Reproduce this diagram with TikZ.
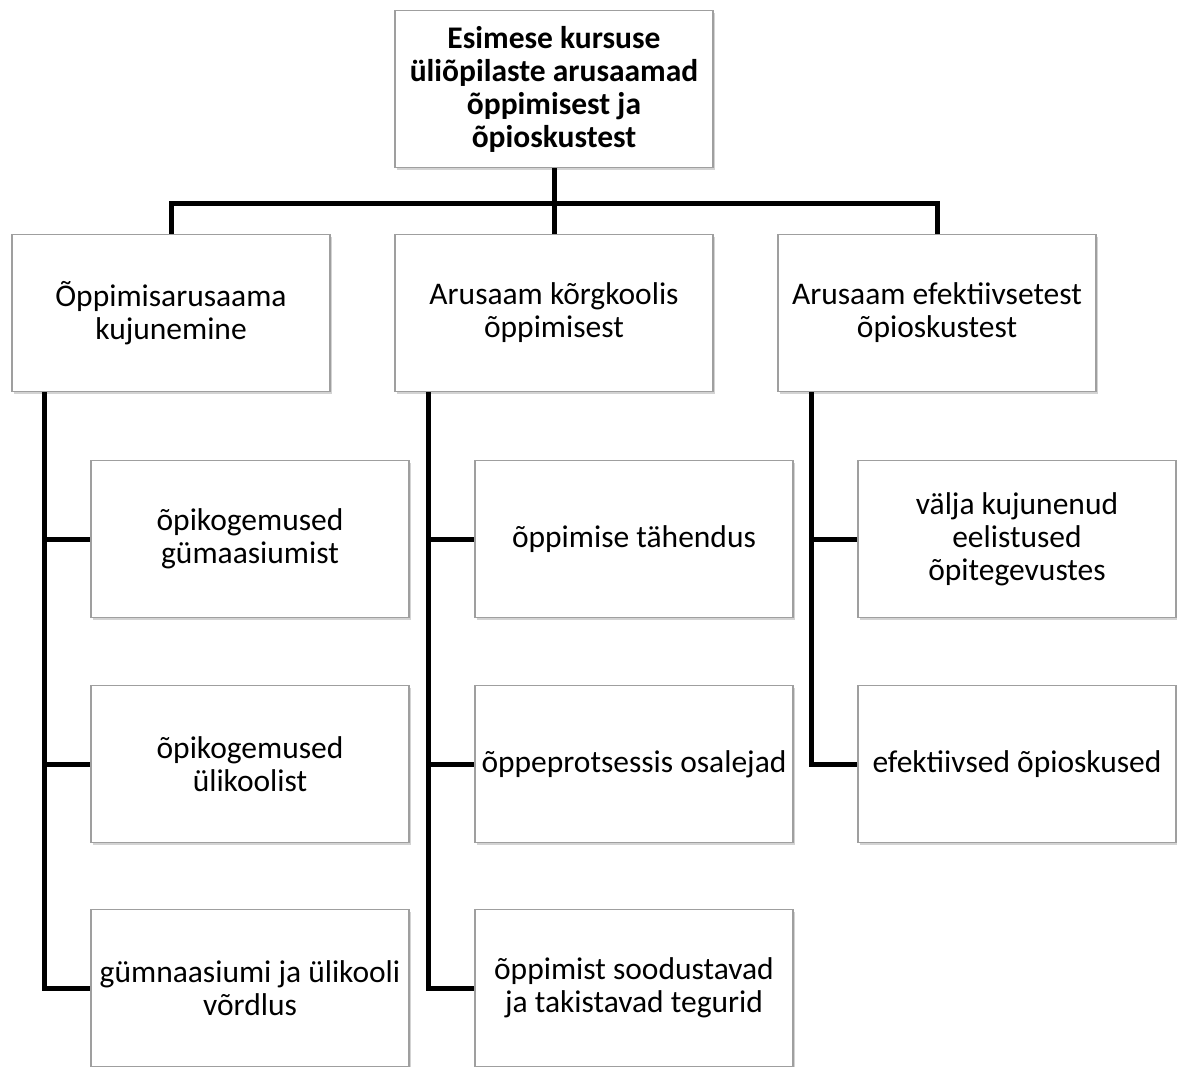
\documentclass[tikz,border=0pt]{standalone}
\usepackage{fontspec}
\setmainfont{Carlito}
\usetikzlibrary{positioning,calc,shadows}
\tikzset{
  box/.style  = {draw=gray!75, line width=1.2pt, fill=white,
                 minimum width=318pt, minimum height=157pt, align=center,
                 font=\fontsize{31.5}{33}\selectfont,
                 drop shadow={shadow xshift=1.5pt, shadow yshift=-2.5pt,
                              opacity=0.35, fill=gray}},
  rootbox/.style = {box, font=\fontsize{31.5}{33}\selectfont\bfseries},
  link/.style = {line width=5pt, black}
}

\begin{document}
\begin{tikzpicture}[x=1pt,y=-1pt]
    \useasboundingbox (0,0) rectangle (1177,1066);
    \clip (0,0) rectangle (1177,1066);

    % top of the tree
    \node[rootbox] (root) at (554,89)
    {Esimese kursuse\\üliõpilaste arusaamad\\õppimisest ja\\õpioskustest};

    % second level
    \node[box] (lvlA) at (171,313)  {Õppimisarusaama\\kujunemine};
    \node[box] (lvlB) at (554,313)  {Arusaam kõrgkoolis\\õppimisest};
    \node[box] (lvlC) at (937,313)  {Arusaam efektiivsetest\\õpioskustest};

    % children of the first branch
    \node[box] (a1) at (250,539) {õpikogemused\\gümaasiumist};
    \node[box] (a2) at (250,764) {õpikogemused\\ülikoolist};
    \node[box] (a3) at (250,988) {gümnaasiumi ja ülikooli\\võrdlus};

    % children of the second branch
    \node[box] (b1) at (634,539) {õppimise tähendus};
    \node[box] (b2) at (634,764) {õppeprotsessis osalejad};
    \node[box] (b3) at (634,988) {õppimist soodustavad\\ja takistavad tegurid};

    % children of the third branch
    \node[box] (c1) at (1017,539) {välja kujunenud\\eelistused\\õpitegevustes};
    \node[box] (c2) at (1017,764) {efektiivsed õpioskused};

    % horizontal bar under the root
    \coordinate (bar) at (554,203);
    \draw[link] (root.south) -- (lvlB.north);
    \draw[link] (lvlA.north) |- (bar) -| (lvlC.north);

    % spines of the branches
    \coordinate (spineA) at (44,0);
    \coordinate (spineB) at (428,0);
    \coordinate (spineC) at (811,0);

    \draw[link] (lvlA.south -| spineA) |- (a3.west);
    \draw[link] (spineA |- a1.west) -- (a1.west);
    \draw[link] (spineA |- a2.west) -- (a2.west);

    \draw[link] (lvlB.south -| spineB) |- (b3.west);
    \draw[link] (spineB |- b1.west) -- (b1.west);
    \draw[link] (spineB |- b2.west) -- (b2.west);

    \draw[link] (lvlC.south -| spineC) |- (c2.west);
    \draw[link] (spineC |- c1.west) -- (c1.west);
\end{tikzpicture}
\end{document}
